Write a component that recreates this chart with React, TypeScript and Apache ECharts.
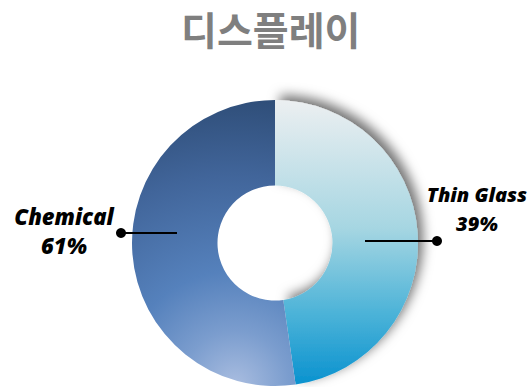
import React, { useEffect, useRef } from "react";
import * as echarts from "echarts";

const titleText = "디스플레이";
const categories = ["Thin Glass", "Chemical"];
// slice sizes as drawn in the picture
const sliceValues = [47.7, 52.3];
// percent texts as printed on the labels
const labelPercents = ["39%", "61%"];

export default function App() {
  const ref = useRef<HTMLDivElement>(null);
  useEffect(() => {
    if (!ref.current) return;
    const chart = echarts.init(ref.current, null, { renderer: "svg" });
    const labelPos = [
      { x: 477, y: 209, size: 20, line: [[365, 241], [437, 241]] },
      { x: 64, y: 230, size: 22, line: [[177, 233], [121, 233]] },
    ];
    const graphics: any[] = [];
    labelPos.forEach((p) => {
      graphics.push({
        type: "line",
        shape: { x1: p.line[0][0], y1: p.line[0][1], x2: p.line[1][0], y2: p.line[1][1] },
        style: { stroke: "#000", lineWidth: 2 },
        z: 100,
      });
      graphics.push({
        type: "circle",
        shape: { cx: p.line[1][0], cy: p.line[1][1], r: 5 },
        style: { fill: "#000" },
        z: 100,
      });
    });
    chart.setOption({
      animation: false,
      backgroundColor: "#ffffff",
      title: {
        text: titleText,
        left: 176,
        top: 3,
        textStyle: {
          fontFamily: "Noto Sans CJK KR",
          fontWeight: "bold",
          fontSize: 39,
          color: "#7f7f7f",
        },
      },
      graphic: graphics,
      series: [
        {
          type: "pie",
          center: [275, 243],
          radius: [57.5, 143],
          startAngle: 90,
          clockwise: true,
          avoidLabelOverlap: false,
          data: categories.map((name, i) => ({
            name,
            value: sliceValues[i],
            label: { fontSize: labelPos[i].size },
            itemStyle:
              i === 0
                ? {
                    color: new echarts.graphic.LinearGradient(0, 0, 0, 1, [
                      { offset: 0, color: "#eceff1" },
                      { offset: 0.45, color: "#a6d6e2" },
                      { offset: 0.75, color: "#4cb3d8" },
                      { offset: 1, color: "#0a92cf" },
                    ]),
                    shadowBlur: 12,
                    shadowColor: "rgba(0,0,0,0.55)",
                    shadowOffsetX: 5,
                    shadowOffsetY: -5,
                  }
                : {
                    color: {
                      type: "radial",
                      x: 235,
                      y: 385,
                      r: 300,
                      global: true,
                      colorStops: [
                        { offset: 0, color: "#a9bde0" },
                        { offset: 0.18, color: "#7b9dce" },
                        { offset: 0.38, color: "#5581bc" },
                        { offset: 0.7, color: "#41659a" },
                        { offset: 1, color: "#2c4a73" },
                      ],
                    },
                  },
          })),
          label: {
            show: true,
            position: "outside",
            formatter: (p: any) => `${p.name}\n${labelPercents[p.dataIndex]}`,
            fontFamily: "Open Sans",
            fontWeight: 800,
            fontStyle: "italic",
            fontSize: 22,
            lineHeight: 29,
            color: "#000",
            align: "center",
          },
          labelLine: { show: false },
          labelLayout: (params: any) => {
            const p = labelPos[params.dataIndex];
            return {
              x: p.x,
              y: p.y,
              align: "center",
              verticalAlign: "middle",
            };
          },
          emphasis: { disabled: true },
        },
      ],
    });
    return () => chart.dispose();
  }, []);
  return (
    <div
      ref={ref}
      style={{ position: "fixed", left: 0, top: 0, width: 531, height: 387 }}
    />
  );
}
